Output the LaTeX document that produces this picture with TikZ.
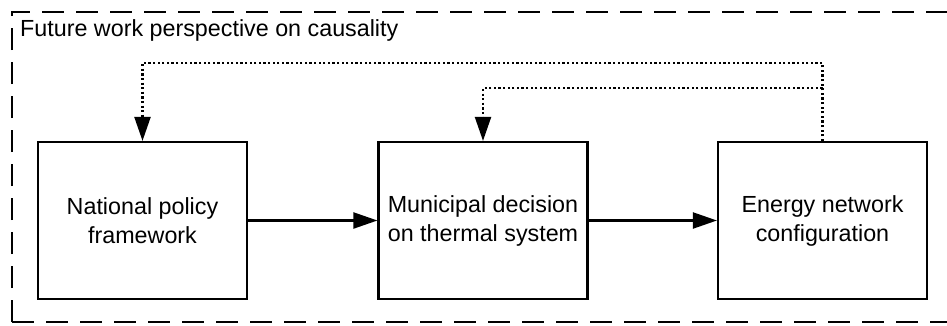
\documentclass[tikz,border=0pt]{standalone}
\usepackage{fontspec}
\setmainfont{Liberation Sans}
\usetikzlibrary{arrows.meta}
\begin{document}
\begin{tikzpicture}[x=1pt,y=-1pt,
  stagebox/.style={draw,line width=2.2pt,minimum width=209pt,minimum height=157pt,align=center,inner sep=0pt,font=\fontsize{23.3}{29}\selectfont},
  flow/.style={line width=2.2pt,-{Triangle[length=24pt,width=16pt]}},
  feedback/.style={line width=2.2pt,dash pattern=on 2.2pt off 2.4pt,-{Triangle[length=24pt,width=16pt]}}]
\useasboundingbox (0,0) rectangle (947,325);
\draw[line width=2.8pt,dash pattern=on 22pt off 12pt] (12,322) -- (12,12) -- (960,12) (12,322) -- (960,322);
\node[anchor=base west,inner sep=0pt,font=\fontsize{23.3}{26}\selectfont] (title) at (20,36) {Future work perspective on causality};
\node[stagebox] (b1) at (142.5,220.5) {National policy\\framework};
\node[stagebox] (b2) at (483,220.5) {Municipal decision\\on thermal system};
\node[stagebox] (b3) at (822.5,220.5) {Energy network\\configuration};
\coordinate (j1) at (822.5,63);
\coordinate (j2) at (822.5,88);
\draw[flow] (b1) -- (b2);
\draw[flow] (b2) -- (b3);
\draw[feedback] (b3.north) -- (j1) -| (b1.north);
\draw[feedback] (j2) -| (b2.north);
\end{tikzpicture}
\end{document}
